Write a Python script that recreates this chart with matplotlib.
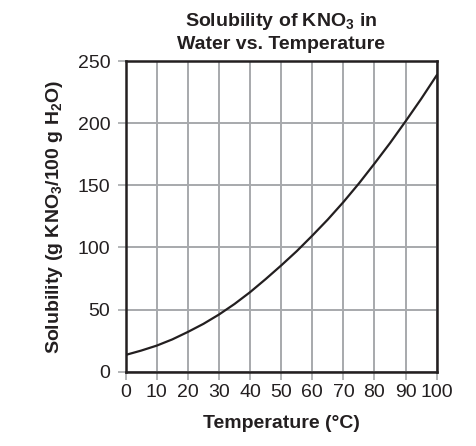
import matplotlib
matplotlib.use("Agg")
import matplotlib.pyplot as plt

plt.rcParams["font.family"] = ["Liberation Sans", "DejaVu Sans"]
plt.rcParams["mathtext.fontset"] = "custom"
plt.rcParams["mathtext.rm"] = "Liberation Sans:bold"
plt.rcParams["mathtext.it"] = "Liberation Sans:bold"
plt.rcParams["mathtext.bf"] = "Liberation Sans:bold"

# every 5 degrees
TEMPERATURE = [0, 5, 10, 15, 20, 25, 30, 35, 40, 45, 50,
               55, 60, 65, 70, 75, 80, 85, 90, 95, 100]
SOLUBILITY = [13.5, 17, 21, 26, 32, 38.5, 46, 54.5, 64, 74.5, 85.5,
              97, 109.5, 122.5, 136.5, 151.5, 167.5, 184, 201.5, 219.5, 238.5]
X_TICKS = list(range(0, 101, 10))
Y_TICKS = list(range(0, 251, 50))

TEXT = "#231f20"
GRID = "#a7a9ac"

fig = plt.figure(figsize=(4.77, 4.46), dpi=100)
ax = fig.add_axes([0.2635, 0.1666, 0.652, 0.6966])

ax.plot(TEMPERATURE, SOLUBILITY, color=TEXT, linewidth=1.6, zorder=3)

ax.set_xlim(0, 100)
ax.set_ylim(0, 250)
ax.set_xticks(X_TICKS)
ax.set_yticks(Y_TICKS)
ax.grid(True, color=GRID, linewidth=1.4)
ax.set_axisbelow(True)
for spine in ax.spines.values():
    spine.set_color(TEXT)
    spine.set_linewidth(1.8)
ax.tick_params(length=6, width=1.2, color=GRID, labelsize=14,
               labelcolor=TEXT)
ax.tick_params(axis="x", pad=3)
ax.tick_params(axis="y", pad=5)

ax.set_title("Solubility of KNO$_3$ in\nWater vs. Temperature",
             fontsize=14, fontweight="bold", color=TEXT, pad=9,
             linespacing=1.3)
ax.set_xlabel("Temperature (°C)", fontsize=14, fontweight="bold",
              color=TEXT, labelpad=10)
ax.set_ylabel("Solubility (g KNO$_3$/100 g H$_2$O)", fontsize=14,
              fontweight="bold", color=TEXT, labelpad=9)

fig.savefig("out.png", dpi=100)
